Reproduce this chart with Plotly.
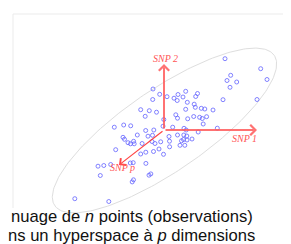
import numpy as np
import plotly.graph_objects as go

# Observations (projected cloud), origin at the SNP axes origin
pts_x = [61, 96.7, 66.7, 103, 63, 72.7, 66, -11, -4.3, 3, 14, 21.7, 33.5, 31.7, 10, 13.2, 19, -11.3,
         59, 93, 23.3, 30.2, 31.3, 37.3, 40.8, 49, 21.7, -23.3, -14.7, -7.5, 11.8, -18.8, 13.5, 23.7,
         29.7, 35.6, 38.3, 42.6, -0.2, 39.2, -49.7, -40.3, -33.3, -1, 8.7, 20, 53.3, -10.2, 22.2, 34.2,
         -18.3, -11.5, -16, -26.7, -41, -39.5, -36, -33.5, -30.4, -29.8, -21.9, -12, -9, -3.3, 5.5, 5.6,
         13.5, 17.5, 19.5, 23, 16, 20.8, 19.8, 22.8, 28, 5, -48.3, -23.3, -18.2, -10.5, -5, -0.5, -66,
         -60.2, -53.3, -33.7, -30.8, -18.1, -63.7, -13.2, -15, -30.5, -31.8, -89.2, -55.2]
pts_y = [71.3, 61.3, 54.7, 50.5, 49.5, 48, 42.7, 41, 35.7, 33.3, 35.5, 38.7, 36.5, 33.5, 31.8, 29.5, 33, 30.5,
         30.3, 30.5, 27.7, 25.8, 22.7, 21.7, 21, 20, 20.7, 20.3, 19.3, 17.8, 15.2, 13.7, 11.8, 11.2,
         13.5, 12.7, 11.5, 13.3, 10.5, 6, 2.8, 5, 4.2, 3.8, 2.8, 1.7, 1.8, 0, 0, -2,
         -0.5, -5.3, -6.2, -5, -7.3, -9.3, -12.7, -13.8, -11.3, -13.8, -13.5, -11.5, -13.5, -11.8, -11.2, -16.8,
         -5, -10.8, -9.5, -10, -15.3, -15.3, -5, -6, -9, -6.5, -19.7, -24, -22.2, -21.5, -19, -24.3, -36.2,
         -35.5, -34.5, -33, -32.7, -33.4, -45.5, -43.9, -45.2, -49.8, -51.9, -68.7, -71.5]

# SNP axes (tip vectors) and labels
axis_names = ["SNP 1", "SNP 2", "SNP p"]
axis_dx = [93, 0, -45]
axis_dy = [0, 66, -35]
label_x = [80.5, 1, -42]
label_y = [-8, 72, -37]

# Confidence ellipse parameters
ell_cx, ell_cy, ell_a, ell_b, ell_angle = 0.5, -0.5, 133, 41, 34.4

caption = ["nuage de <i>n</i> points (observations)", "ns un hyperspace à <i>p</i> dimensions"]

fig = go.Figure()

t = np.linspace(0, 2 * np.pi, 240)
th = np.radians(ell_angle)
ex = ell_cx + ell_a * np.cos(t) * np.cos(th) - ell_b * np.sin(t) * np.sin(th)
ey = ell_cy + ell_a * np.cos(t) * np.sin(th) + ell_b * np.sin(t) * np.cos(th)
fig.add_trace(go.Scatter(x=ex, y=ey, mode="lines", line=dict(color="#dedede", width=1),
                         hoverinfo="skip", showlegend=False))

fig.add_trace(go.Scatter(x=pts_x, y=pts_y, mode="markers",
                         marker=dict(symbol="circle-open", size=4, color="rgba(100,100,255,0.8)",
                                     line=dict(width=1)),
                         showlegend=False))

widths = [2, 2, 1.2]
colors = ["rgba(255,90,90,0.85)", "rgba(255,90,90,0.85)", "rgba(255,50,50,0.9)"]
for i, name in enumerate(axis_names):
    fig.add_annotation(x=axis_dx[i], y=axis_dy[i], ax=0, ay=0, xref="x", yref="y", axref="x", ayref="y",
                       showarrow=True, arrowhead=4, arrowsize=1.0 if i < 2 else 1.4,
                       arrowwidth=widths[i], arrowcolor=colors[i], text="")
    fig.add_annotation(x=label_x[i], y=label_y[i], xref="x", yref="y", showarrow=False,
                       text="<i>%s</i>" % name,
                       font=dict(family="Liberation Sans", size=10, color="#ff5555") if False else
                       dict(family="Liberation Serif", size=10, color="#ff5555"))

# Frame lines
fig.add_shape(type="line", x0=-151, x1=135, y0=116, y1=116, line=dict(color="#ebebeb", width=1))
fig.add_shape(type="line", x0=-151, x1=-151, y0=116, y1=-78, line=dict(color="#ebebeb", width=1))

cap_x = [91, 93]
cap_y = [-86, -105]
for i, txt in enumerate(caption):
    fig.add_annotation(x=cap_x[i], y=cap_y[i], xref="x", yref="y", xanchor="right", yanchor="middle",
                       showarrow=False, text=txt,
                       font=dict(family="Liberation Sans", size=16.6, color="#111111"))

fig.update_xaxes(range=[-156, 135], visible=False, fixedrange=True)
fig.update_yaxes(range=[-122, 122], visible=False, fixedrange=True)
fig.update_layout(width=291, height=244, margin=dict(l=0, r=0, t=0, b=0),
                  paper_bgcolor="white", plot_bgcolor="white", showlegend=False)
fig.write_html("out.html")
